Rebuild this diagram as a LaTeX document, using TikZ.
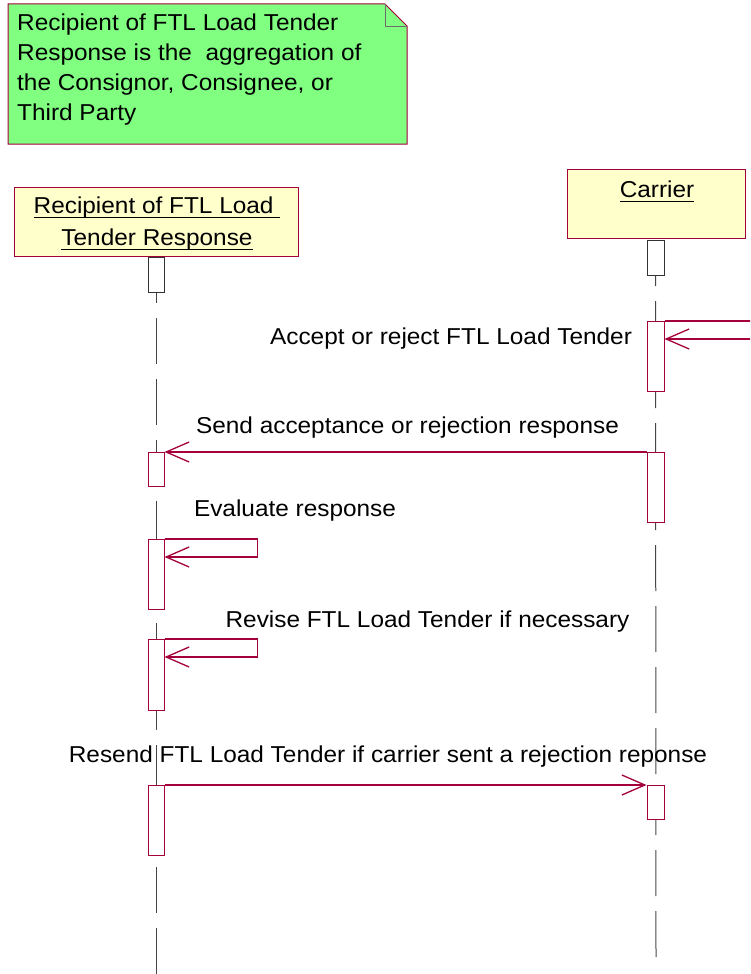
\documentclass[tikz,border=0pt]{standalone}
\usepackage{fontspec}
\setmainfont[FakeStretch=1.06]{Liberation Sans}
\usetikzlibrary{arrows.meta,backgrounds}
\definecolor{crim}{RGB}{165,0,60}
\definecolor{notegreen}{RGB}{128,255,128}
\definecolor{headyellow}{RGB}{255,255,204}
\definecolor{lifegrey}{RGB}{70,70,70}
\definecolor{foldgrey}{RGB}{110,110,110}
\newcommand\myul[1]{\setbox0=\hbox{#1}\rlap{\rule[-5.2pt]{\wd0}{1.6pt}}\box0}
\begin{document}
\begin{tikzpicture}[x=1pt,y=-1pt,
  txtfont/.style={font=\fontsize{23pt}{30pt}\selectfont},
  notebox/.style={draw=crim, fill=notegreen, line width=1pt},
  foldline/.style={draw=foldgrey, line width=0.8pt},
  notetext/.style={txtfont, align=left, inner sep=0pt},
  head/.style={draw=crim, fill=headyellow, line width=1pt, inner sep=0pt},
  headtext/.style={txtfont, inner sep=0pt, anchor=base},
  act/.style={draw=crim, fill=white, line width=1pt, minimum width=16pt, inner sep=0pt, anchor=north},
  act0/.style={act, draw=black!80},
  lifeline/.style={draw=lifegrey, line width=1pt, dash pattern=on 46pt off 15pt},
  msg/.style={draw=crim, line width=1.2pt, -{Straight Barb[length=23pt,width=20pt,line width=1.3pt]}},
  lbl/.style={txtfont, inner sep=0pt, anchor=base}]
\useasboundingbox (0,0) rectangle (750,974);
\clip (0,0) rectangle (750,974);
% note
\draw[notebox] (8,4) -- (385,4) -- (407,26) -- (407,144) -- (8,144) -- cycle;
\draw[foldline] (385,4) -- (385,26) -- (407,26);
\node[notetext, anchor=north west] (notetxt) at (17,14)
  {Recipient of FTL Load Tender\\Response is the\ \ aggregation of\\the Consignor, Consignee, or\\Third Party};
% heads
\node[head, minimum width=284pt, minimum height=69pt] (rbox) at (156,221.5) {};
\node[headtext] (rtxt1) at (157,213) {\myul{Recipient of FTL Load\ }};
\node[headtext] (rtxt2) at (157,245) {\myul{Tender Response}};
\node[head, minimum width=178pt, minimum height=69pt] (cbox) at (656,203.5) {};
\node[headtext] (ctxt) at (657,197) {\myul{Carrier}};
% activations
\node[act0, minimum height=35pt] (L0) at (156,257) {};
\node[act0, minimum height=35pt, minimum width=17pt] (R0) at (655.5,240) {};
\node[act, minimum height=70pt, minimum width=17pt] (R1) at (655.5,321) {};
\node[act, minimum height=70pt, minimum width=17pt] (R2) at (655.5,452) {};
\node[act, minimum height=34pt] (L1) at (156,452) {};
\node[act, minimum height=70pt] (L2) at (156,539) {};
\node[act, minimum height=71pt] (L3) at (156,639) {};
\node[act, minimum height=70pt] (L4) at (156,785) {};
\node[act, minimum height=34pt, minimum width=17pt] (R3) at (655.5,785) {};
% lifelines
\coordinate (lend) at (156,974);
\coordinate (rend) at (656,962);
\begin{scope}[on background layer]
\draw[lifeline] (L0.north) -- (lend);
\draw[lifeline] (R0.north) -- (rend);
\end{scope}
% messages
\draw[msg] (R1.north east) -- ++(95,0) |- ([yshift=-18pt]R1.north east);
\draw[msg] (R2.north west) -- (L1.north east);
\draw[msg] (L2.north east) -- ++(93,0) |- ([yshift=-18pt]L2.north east);
\draw[msg] (L3.north east) -- ++(93,0) |- ([yshift=-18pt]L3.north east);
\draw[msg] (L4.north east) -- (R3.north west);
% labels
\node[lbl] (m1) at (451,344) {Accept or reject FTL Load Tender};
\node[lbl] (m2) at (407.5,433) {Send acceptance or rejection response};
\node[lbl] (m3) at (295,516) {Evaluate response};
\node[lbl] (m4) at (427.5,627) {Revise FTL Load Tender if necessary};
\node[lbl] (m5) at (388,762) {Resend FTL Load Tender if carrier sent a rejection reponse};
\end{tikzpicture}
\end{document}
